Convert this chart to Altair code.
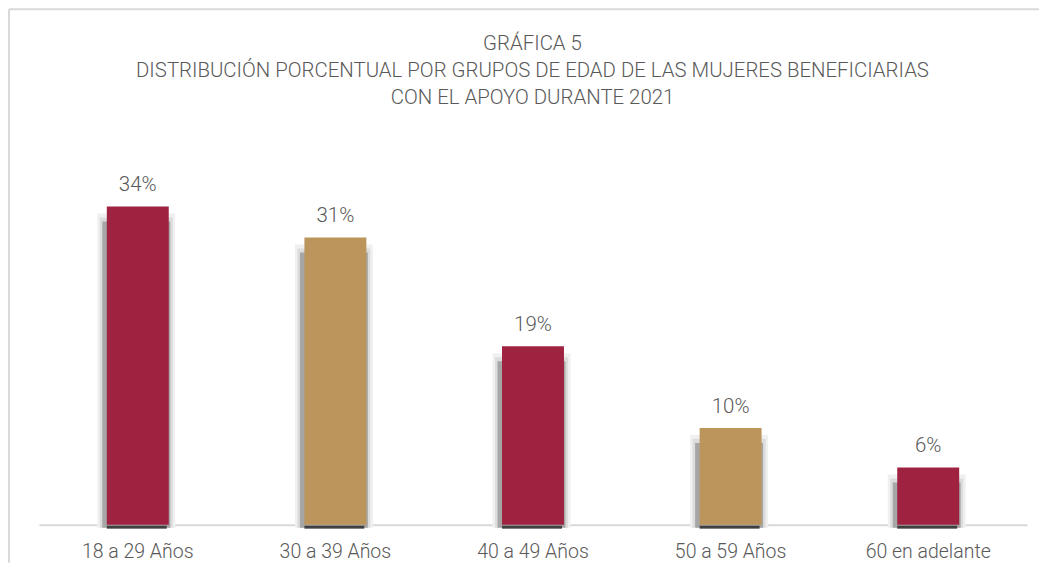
import altair as alt
import pandas as pd

categories = ["18 a 29 Años", "30 a 39 Años", "40 a 49 Años", "50 a 59 Años", "60 en adelante"]
values = [33.9, 30.6, 19.0, 10.3, 6.1]
labels = ["34%", "31%", "19%", "10%", "6%"]
colors = ["#9F2241", "#BC955C", "#9F2241", "#BC955C", "#9F2241"]
title_lines = ["GRÁFICA 5",
               "DISTRIBUCIÓN PORCENTUAL POR GRUPOS DE EDAD DE LAS MUJERES BENEFICIARIAS",
               "CON EL APOYO DURANTE 2021"]

df = pd.DataFrame({"cat": categories, "val": values, "lab": labels, "col": colors,
                   "zero": [0.0] * len(categories)})
one = pd.DataFrame({"k": [0]})

FONT = "Roboto"
TXT = "#595959"
PX = 376 / 40.0  # pixels per percentage unit

x = alt.X("cat:N", sort=categories,
          scale=alt.Scale(paddingInner=0.686, paddingOuter=0.343),
          axis=alt.Axis(title=None, labelFont=FONT, labelFontSize=19.5, labelFontWeight=300,
                        labelColor=TXT, labelPadding=18, ticks=False, domainColor="#d9d9d9",
                        domainWidth=2, labelAngle=0))
YSC = alt.Scale(domain=[0, 40], nice=False)
y = alt.Y("val:Q", scale=YSC, axis=None)
ysh = alt.Y("sv:Q", scale=YSC, axis=None)
yzero = alt.Y("zero:Q", scale=YSC, axis=None)

base = alt.Chart(df)

top_line = alt.Chart(one).mark_rule(color="#d9d9d9", strokeWidth=2).encode(
    x=alt.value(-30), x2=alt.value(1001), y=alt.value(-140))
left_line = alt.Chart(one).mark_rule(color="#d9d9d9", strokeWidth=2).encode(
    x=alt.value(-30), y=alt.value(-140), y2=alt.value(414))

title_layers = []
for i, line in enumerate(title_lines):
    title_layers.append(
        alt.Chart(pd.DataFrame({"t": [line]})).mark_text(
            font=FONT, fontSize=20.4, fontWeight=300, color=TXT, align="center",
            baseline="middle").encode(
            text="t:N", x=alt.value(494), y=alt.value(-105 + 27 * i)))

def shadow(color, w, drop):
    return base.transform_calculate(sv=f"datum.val - {drop / PX}").mark_bar(
        color=color, width=w, xOffset=-1.5, yOffset=3).encode(x=x, y=ysh)

sh1 = shadow("#f0f0f0", 78, 4)
sh2 = shadow("#dcdcdc", 73, 8)
sh3 = shadow("#a6a6a6", 68, 12)
strip = base.mark_tick(color="#111111", size=60, thickness=3, xOffset=-1, yOffset=2.5).encode(
    x=x, y=yzero)

bars = base.mark_bar(width=62).encode(
    x=x, y=y, color=alt.Color("col:N", scale=None))

text = base.mark_text(font=FONT, fontSize=20.5, fontWeight=300, color=TXT,
                      baseline="bottom", dy=-11).encode(x=x, y=y, text="lab:N")

chart = alt.layer(top_line, left_line, *title_layers, sh1, sh2, sh3, strip, bars, text).properties(
    width=989, height=376,
    padding=0,
).configure_view(stroke=None)

chart.save("out.html", embed_options={"renderer": "svg", "actions": False})
